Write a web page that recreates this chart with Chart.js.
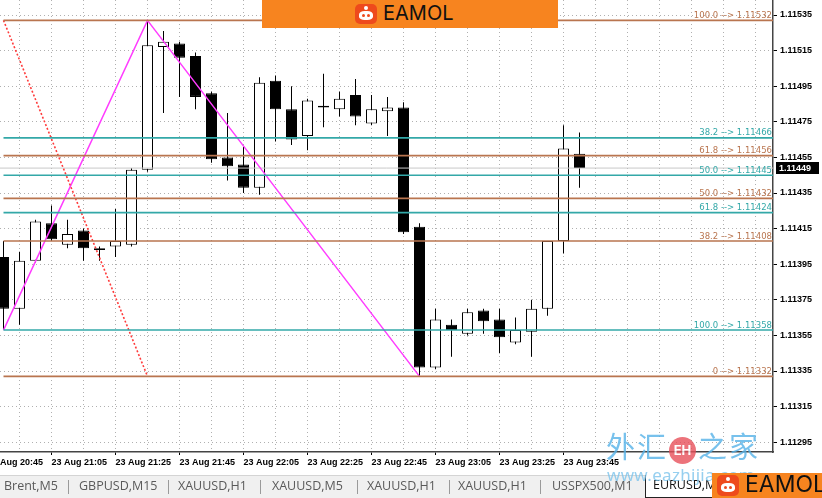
<!DOCTYPE html>
<html>
<head>
<meta charset="utf-8">
<script src="https://cdn.jsdelivr.net/npm/chart.js@4.4.1/dist/chart.umd.min.js"></script>
<style>
  body { margin:0; width:822px; height:498px; overflow:hidden; position:relative; background:#fff; font-family:"Open Sans", sans-serif; }
  #box { position:absolute; left:0; top:0; width:822px; height:476px; }
  #tabs { position:absolute; left:0; top:475px; width:822px; height:23px; background:#f0f0f0; border-top:1px solid #d4d4d4; box-sizing:border-box; }
  .tab { position:absolute; top:-1px; font-size:12.5px; color:#5a5a5a; line-height:22px; white-space:nowrap; }
  .sep { position:absolute; top:4px; width:1px; height:14px; background:#9a9a9a; }
  #active { position:absolute; left:645px; top:-1px; width:90px; height:22px; background:#fff; border:1px solid #222; border-top:none; }
  .eamol { position:absolute; background:#f7841f; }
  .eamol .txt { position:absolute; font-family:Inter, sans-serif; font-weight:400; color:#111; white-space:nowrap; }
  .bot { position:absolute; background:#ee4a1c; border-radius:5px; }
  .bot .face { position:absolute; background:#fff; border-radius:40%; }
  .bot .eye { position:absolute; background:#ee4a1c; border-radius:50%; }
  #wm { position:absolute; left:606px; top:424px; font-family:"Noto Sans CJK SC", sans-serif; font-size:29px; color:#56b2e8; opacity:0.8; white-space:nowrap; letter-spacing:2px; }
  #wm .eh { display:inline-block; width:27px; height:27px; border-radius:50%; background:#e8505b; color:#fff; font-family:Inter, sans-serif; font-size:13px; font-weight:700; text-align:center; line-height:27px; vertical-align:3px; margin:0 2px 0 1px; letter-spacing:0; }
  #url { position:absolute; left:607px; top:463px; font-family:"Noto Sans", sans-serif; font-size:17px; color:#7cc4ec; opacity:0.8; white-space:nowrap; letter-spacing:0.3px; }
</style>
</head>
<body>
<div id="box"><canvas id="chart"></canvas></div>

<div id="tabs">
  <span class="tab" style="left:4px">Brent,M5</span><div class="sep" style="left:68px"></div>
  <span class="tab" style="left:79px">GBPUSD,M15</span><div class="sep" style="left:168px"></div>
  <span class="tab" style="left:178px">XAUUSD,H1</span><div class="sep" style="left:260px"></div>
  <span class="tab" style="left:272px">XAUUSD,M5</span><div class="sep" style="left:357px"></div>
  <span class="tab" style="left:367px">XAUUSD,H1</span><div class="sep" style="left:449px"></div>
  <span class="tab" style="left:458px">XAUUSD,H1</span><div class="sep" style="left:540px"></div>
  <span class="tab" style="left:552px">USSPX500,M1</span>
  <div id="active"><span class="tab" style="left:7px;color:#111">EURUSD,M5</span></div>
</div>

<div id="wm">外汇<span class="eh">EH</span>之家</div>
<div id="url">www.eazhijia.com</div>

<!-- top banner -->
<div class="eamol" style="left:262px;top:0;width:296px;height:28px">
  <div class="bot" style="left:93px;top:4px;width:22px;height:20px">
    <div class="face" style="left:4px;top:7px;width:14px;height:9px"></div>
    <div class="eye" style="left:7px;top:10px;width:3px;height:3px"></div>
    <div class="eye" style="left:12px;top:10px;width:3px;height:3px"></div>
    <div class="face" style="left:9px;top:2px;width:4px;height:4px;border-radius:50%"></div>
  </div>
  <span class="txt" style="left:121px;top:1px;font-size:20px">EAMOL</span>
</div>
<!-- bottom right banner -->
<div class="eamol" style="left:712px;top:473px;width:110px;height:25px">
  <div class="bot" style="left:5px;top:2px;width:22px;height:21px">
    <div class="face" style="left:4px;top:8px;width:14px;height:9px"></div>
    <div class="eye" style="left:7px;top:11px;width:3px;height:3px"></div>
    <div class="eye" style="left:12px;top:11px;width:3px;height:3px"></div>
    <div class="face" style="left:9px;top:2px;width:4px;height:4px;border-radius:50%"></div>
  </div>
  <span class="txt" style="left:33px;top:-3px;font-size:23px">EAMOL</span>
</div>

<script>
// EURUSD M5 candles, 23 Aug
const times = ['20:50','20:55','21:00','21:05','21:10','21:15','21:20','21:25','21:30','21:35',
  '21:40','21:45','21:50','21:55','22:00','22:05','22:10','22:15','22:20','22:25',
  '22:30','22:35','22:40','22:45','22:50','22:55','23:00','23:05','23:10','23:15',
  '23:20','23:25','23:30','23:35','23:40','23:45','23:50'];
const opens = [1.11399,1.11370,1.11397,1.11418,1.11406,1.11414,1.11404,1.11405,1.11406,1.11448,
  1.11517,1.11519,1.11512,1.11491,1.11455,1.11451,1.11438,1.11498,1.11482,1.11467,
  1.11483,1.11482,1.11490,1.11474,1.11481,1.11483,1.11416,1.11337,1.11361,1.11356,
  1.11369,1.11364,1.11351,1.11357,1.11370,1.11408,1.11457];
const highs = [1.11408,1.11402,1.11420,1.11428,1.11420,1.11415,1.11405,1.11426,1.11449,1.11532,
  1.11526,1.11520,1.11514,1.11492,1.11480,1.11461,1.11500,1.11501,1.11495,1.11488,
  1.11502,1.11492,1.11499,1.11490,1.11489,1.11486,1.11418,1.11370,1.11364,1.11370,
  1.11370,1.11370,1.11365,1.11375,1.11408,1.11473,1.11469];
const lows = [1.11358,1.11361,1.11396,1.11408,1.11404,1.11397,1.11397,1.11399,1.11405,1.11447,
  1.11480,1.11489,1.11482,1.11452,1.11442,1.11435,1.11434,1.11464,1.11462,1.11459,
  1.11472,1.11478,1.11473,1.11473,1.11467,1.11412,1.11332,1.11336,1.11343,1.11355,
  1.11356,1.11345,1.11350,1.11343,1.11366,1.11401,1.11438];
const closes = [1.11370,1.11397,1.11419,1.11409,1.11412,1.11404,1.11403,1.11408,1.11448,1.11518,
  1.11520,1.11511,1.11489,1.11454,1.11450,1.11438,1.11497,1.11482,1.11465,1.11487,
  1.11484,1.11488,1.11478,1.11482,1.11483,1.11413,1.11337,1.11364,1.11358,1.11368,
  1.11363,1.11354,1.11358,1.11370,1.11408,1.11460,1.11449];

const tickDate = '23 Aug';
const tickTimes = ['20:45','21:05','21:25','21:45','22:05','22:25','22:45','23:05','23:25','23:45'];
const yTicks = [1.11295,1.11315,1.11335,1.11355,1.11375,1.11395,1.11415,1.11435,1.11455,1.11475,1.11495,1.11515,1.11535];

// two fibo retracements
const brownLevels = ['0','38.2','50.0','61.8','100.0'];
const brownPrices = [1.11332,1.11408,1.11432,1.11456,1.11532];
const tealLevels = ['38.2','50.0','61.8','100.0'];
const tealPrices = [1.11466,1.11445,1.11424,1.11358];
const fibStart = '20:50';

// zigzag + fibo trend line
const zigzagTimes = ['20:50','21:35','23:00'];
const zigzagPrices = [1.11358,1.11532,1.11332];
const trendTimes = ['20:50','21:35'];
const trendPrices = [1.11532,1.11332];

const lastPrice = 1.11449;

const BROWN = '#b9754f';
const TEAL = '#33a8a8';

function toMin(t) { const p = t.split(':'); return +p[0] * 60 + +p[1]; }
function idx(t) { return (toMin(t) - toMin(times[0])) / 5; }

const xMin = -0.21875, xMax = 48.09375;

const wicks = times.map((t, i) => ({ x: idx(t), y: [lows[i], highs[i]] }));
const bodies = times.map((t, i) => ({ x: idx(t), y: [opens[i], closes[i]] }));

function hline(price, color) {
  return {
    type: 'line', data: [{ x: idx(fibStart), y: price }, { x: xMax + 1, y: price }],
    borderColor: color, borderWidth: 1.6, pointRadius: 0, order: 0
  };
}

const datasets = [
  { type: 'bar', data: wicks, backgroundColor: '#000', barThickness: 1, grouped: false, order: 5, inflateAmount: 0 },
  { type: 'bar', data: bodies, backgroundColor: bodies.map((b, i) => closes[i] >= opens[i] ? '#fff' : '#000'),
    borderColor: '#000', borderWidth: 1, borderSkipped: false, barThickness: 11, grouped: false, order: 4, inflateAmount: 0 },
  { type: 'line', data: [{ x: xMin - 1, y: lastPrice }, { x: xMax + 1, y: lastPrice }],
    borderColor: '#c8c8c8', borderWidth: 1, pointRadius: 0, order: 3 },
  ...brownPrices.map(p => hline(p, BROWN)),
  ...tealPrices.map(p => hline(p, TEAL)),
  { type: 'line', data: trendTimes.map((t, i) => ({ x: idx(t), y: trendPrices[i] })),
    borderColor: '#ff3b3b', borderWidth: 1.6, borderDash: [2, 2], pointRadius: 0, order: 0 },
  { type: 'line', data: zigzagTimes.map((t, i) => ({ x: idx(t), y: zigzagPrices[i] })),
    borderColor: '#ff3cff', borderWidth: 1.5, pointRadius: 0, order: 0 }
];

const gridVals = [];
for (let v = idx(tickTimes[0]); v <= xMax; v += 2) gridVals.push(v);
function labelFor(v) {
  const t = tickTimes.find(tt => idx(tt) === v);
  return t ? tickDate + ' ' + t : '';
}

// fibo level texts and the current price box
const overlay = {
  id: 'overlay',
  afterDatasetsDraw(chart) {
    const { ctx, chartArea, scales: { y } } = chart;
    ctx.save();
    ctx.font = '8.5px "DejaVu Sans"';
    ctx.textAlign = 'right';
    ctx.textBaseline = 'alphabetic';
    brownPrices.forEach((p, i) => {
      ctx.fillStyle = BROWN;
      ctx.fillText(brownLevels[i] + ' --> ' + p.toFixed(5), chartArea.right - 1, y.getPixelForValue(p) - 2.5);
    });
    tealPrices.forEach((p, i) => {
      ctx.fillStyle = TEAL;
      ctx.fillText(tealLevels[i] + ' --> ' + p.toFixed(5), chartArea.right - 1, y.getPixelForValue(p) - 2.5);
    });
    const py = Math.round(y.getPixelForValue(lastPrice));
    ctx.fillStyle = '#000';
    ctx.fillRect(chartArea.right + 3, py - 6, 43, 12);
    ctx.fillStyle = '#fff';
    ctx.textAlign = 'left';
    ctx.textBaseline = 'middle';
    ctx.font = 'bold 9px "Liberation Sans"';
    ctx.fillText(lastPrice.toFixed(5), chartArea.right + 6, py + 0.5);
    ctx.restore();
  }
};

function noPad(s) {
  s.paddingLeft = 0; s.paddingRight = 0; s.paddingTop = 0; s.paddingBottom = 0;
}

new Chart(document.getElementById('chart').getContext('2d'), {
  type: 'bar',
  data: { datasets: datasets },
  options: {
    responsive: true,
    maintainAspectRatio: false,
    animation: false,
    layout: { padding: 0 },
    plugins: { legend: { display: false }, tooltip: { enabled: false } },
    scales: {
      x: {
        type: 'linear', min: xMin, max: xMax, offset: false,
        grid: { offset: false, color: '#b0b0b0', tickLength: 3,
          tickColor: c => labelFor(c.tick && c.tick.value) ? '#000' : 'rgba(0,0,0,0)' },
        border: { color: '#444', width: 1.5, dash: [1, 3] },
        ticks: { autoSkip: false, maxRotation: 0, align: 'start', padding: 2, color: '#000',
          font: { family: 'Liberation Sans', size: 9, weight: 'bold' }, callback: v => labelFor(v) },
        afterBuildTicks: s => { s.ticks = gridVals.map(v => ({ value: v })); },
        afterFit: s => { s.height = 24; noPad(s); }
      },
      y: {
        position: 'right', min: 1.112895, max: 1.1154343,
        grid: { color: '#b0b0b0', tickLength: 4, tickColor: '#000' },
        border: { color: '#444', width: 1.5, dash: [1, 3] },
        ticks: { padding: 3, color: '#000', font: { family: 'Liberation Sans', size: 9, weight: 'bold' },
          callback: v => v.toFixed(5) },
        afterBuildTicks: s => { s.ticks = yTicks.map(v => ({ value: v })); },
        afterFit: s => { s.width = 49; noPad(s); }
      }
    }
  },
  plugins: [overlay]
});
</script>
</body>
</html>
